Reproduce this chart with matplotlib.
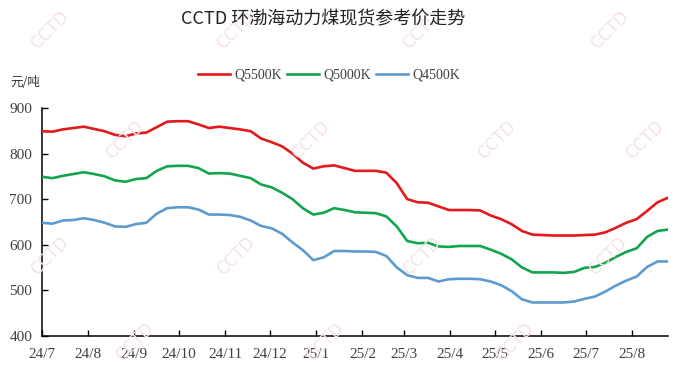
import matplotlib
matplotlib.use("Agg")
import matplotlib.pyplot as plt
import pandas as pd

# weekly readings, starting 2024-07-01
start_date = "2024-07-01"
q5500 = [849, 848, 853, 856, 859, 854, 849, 841, 838, 844,
         846, 858, 870, 871, 871, 864, 856, 859, 856, 853,
         849, 833, 825, 816, 800, 780, 767, 772, 774, 768,
         762, 762, 762, 758, 735, 700, 693, 692, 684, 676,
         676, 676, 675, 664, 656, 645, 630, 622, 621, 620,
         620, 620, 621, 622, 627, 637, 648, 656, 674, 693, 703]
q5000 = [749, 746, 751, 755, 759, 755, 750, 741, 738, 744,
         746, 762, 772, 773, 773, 768, 756, 757, 756, 751,
         746, 732, 726, 714, 700, 680, 666, 670, 680, 676,
         671, 670, 669, 662, 640, 608, 603, 604, 596, 595,
         597, 597, 597, 589, 580, 568, 550, 539, 539, 539,
         538, 540, 549, 551, 560, 573, 584, 592, 617, 630, 633]
q4500 = [648, 646, 653, 654, 658, 654, 648, 640, 639, 645,
         648, 668, 680, 682, 682, 677, 666, 666, 665, 661,
         653, 641, 636, 624, 605, 588, 566, 572, 586, 586,
         585, 585, 584, 575, 550, 533, 527, 527, 519, 524,
         525, 525, 524, 519, 511, 498, 480, 473, 473, 473,
         473, 475, 481, 486, 497, 510, 521, 530, 551, 563, 563]
series_names = ["Q5500K", "Q5000K", "Q4500K"]
series_colors = ["#e3191b", "#13a54d", "#5d9bcf"]
month_ticks = pd.date_range("2024-07-01", "2025-08-01", freq="MS")
month_labels = [d.strftime("%y/%-m") for d in month_ticks]

dates = pd.date_range(start_date, periods=len(q5500), freq="7D")

plt.rcParams["font.family"] = ["Liberation Serif", "Noto Sans CJK SC", "DejaVu Sans"]

fig = plt.figure(figsize=(6.77, 3.69), dpi=100)
ax = fig.add_axes([42 / 677, 1 - 335.7 / 369, 626 / 677, 227.7 / 369])

# watermark, very faint
wm_rows = [(30, [50, 236, 422, 610]), (140, [125, 311, 497, 645]),
           (256, [50, 236, 422, 608]), (342, [135, 325, 515])]
for wy, xs in wm_rows:
    for wx in xs:
        fig.text(wx / 677, 1 - wy / 369, "CCTD", rotation=45, fontsize=12,
                 family="DejaVu Sans", color="#f7e3e3",
                 ha="center", va="center", zorder=0)

for vals, name, col in zip([q5500, q5000, q4500], series_names, series_colors):
    ax.plot(dates, vals, color=col, lw=1.9, label=name, zorder=3)

ax.set_xlim(dates[0], dates[-1])
ax.set_ylim(400, 900)
ax.set_yticks([400, 500, 600, 700, 800, 900])
ax.set_xticks(month_ticks)
ax.set_xticklabels(month_labels)
ax.patch.set_alpha(0)

for s in ["top", "right"]:
    ax.spines[s].set_visible(False)
for s in ["left", "bottom"]:
    ax.spines[s].set_linewidth(1.1)
ax.tick_params(direction="in", length=4, width=1, labelsize=11,
               labelcolor="#404040", pad=7)
ax.tick_params(axis="x", pad=9)

fig.text(323 / 677, 1 - 19 / 369, "CCTD 环渤海动力煤现货参考价走势",
         family="Noto Sans CJK SC", fontsize=13, color="#222222",
         ha="center", va="center")
fig.text(10 / 677, 1 - 82 / 369, "元/吨", family="Noto Sans CJK SC",
         fontsize=9, color="#333333", ha="left", va="center")

fig.legend(loc="center", bbox_to_anchor=(329 / 677, 1 - 75 / 369), ncol=3,
           frameon=False, fontsize=10, handlelength=2.3, handletextpad=0.3,
           columnspacing=0.4, labelcolor="#404040")

fig.savefig("out.png", dpi=100)
